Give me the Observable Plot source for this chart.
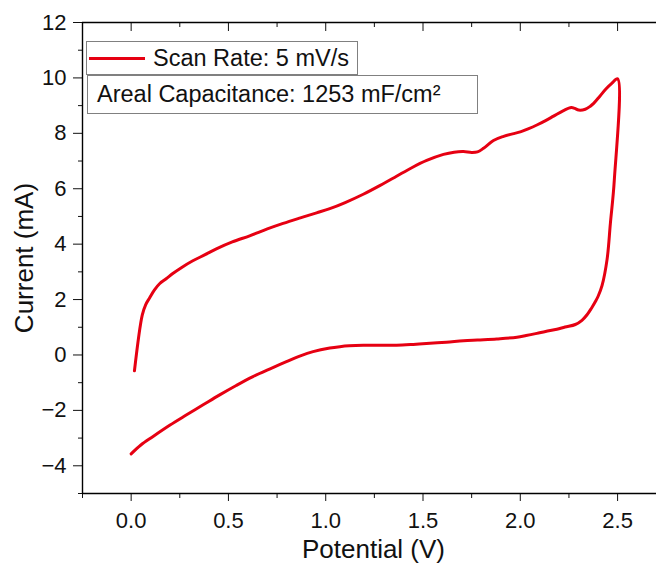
<!DOCTYPE html>
<html>
<head>
<meta charset="utf-8">
<script src="https://cdn.jsdelivr.net/npm/d3@7"></script>
<script src="https://cdn.jsdelivr.net/npm/@observablehq/plot@0.6"></script>
<style>
  html, body { margin: 0; padding: 0; background: #fff; }
  #wrap { position: relative; width: 657px; height: 572px; font-family: "Liberation Sans", Arial, sans-serif; }
  .lg { position: absolute; box-sizing: border-box; border: 1px solid #808080; background: #fff; display: flex; align-items: center; font-size: 23.5px; color: #111; white-space: nowrap; }
  #lg1 { left: 86px; top: 41px; width: 272px; height: 34px; padding-left: 2px; }
  #lg2 { left: 87px; top: 75px; width: 391px; height: 39px; padding-left: 9px; }
  #lg1 .sw { width: 56px; height: 3px; margin-right: 8px; }
</style>
</head>
<body>
<div id="wrap"></div>
<script>
// Forward (anodic) sweep
const potentialFwd = [0.017, 0.057, 0.075, 0.094, 0.12, 0.146, 0.18, 0.214, 0.26, 0.317, 0.38, 0.438, 0.52, 0.609, 0.70, 0.781, 0.87, 0.953, 1.021, 1.10, 1.193, 1.28, 1.364, 1.44, 1.519, 1.605, 1.66, 1.708, 1.75, 1.78, 1.811, 1.862, 1.914, 1.96, 2.0, 2.04, 2.085, 2.13, 2.171, 2.222, 2.262, 2.28, 2.30, 2.334, 2.36, 2.377, 2.41, 2.44, 2.47, 2.50];
const currentFwd   = [-0.57, 1.44, 1.82, 2.05, 2.35, 2.57, 2.75, 2.94, 3.16, 3.40, 3.62, 3.83, 4.08, 4.30, 4.55, 4.75, 4.95, 5.13, 5.28, 5.50, 5.80, 6.12, 6.45, 6.75, 7.02, 7.24, 7.32, 7.34, 7.31, 7.33, 7.46, 7.74, 7.89, 7.98, 8.05, 8.16, 8.30, 8.46, 8.62, 8.82, 8.93, 8.90, 8.84, 8.87, 8.98, 9.08, 9.35, 9.60, 9.80, 9.97];
// Reverse (cathodic) sweep
const potentialRev = [2.483, 2.463, 2.446, 2.42, 2.40, 2.386, 2.365, 2.343, 2.317, 2.283, 2.23, 2.188, 2.13, 2.085, 2.03, 1.983, 1.879, 1.78, 1.708, 1.62, 1.536, 1.45, 1.364, 1.28, 1.193, 1.12, 1.073, 1.021, 0.935, 0.87, 0.798, 0.72, 0.626, 0.54, 0.455, 0.37, 0.283, 0.20, 0.111, 0.05, 0.0];
const currentRev   = [6.3, 4.75, 3.45, 2.5, 2.12, 1.93, 1.68, 1.45, 1.25, 1.10, 1.01, 0.93, 0.85, 0.78, 0.70, 0.64, 0.58, 0.54, 0.51, 0.46, 0.42, 0.38, 0.35, 0.35, 0.35, 0.33, 0.30, 0.25, 0.12, -0.03, -0.24, -0.48, -0.78, -1.10, -1.44, -1.80, -2.17, -2.53, -2.95, -3.25, -3.57];

const xDomain = [-0.25, 2.7];
const yDomain = [-5, 12];
const xMajor = [0, 0.5, 1.0, 1.5, 2.0, 2.5];
const xMinor = [-0.25, 0.25, 0.75, 1.25, 1.75, 2.25];
const yMajor = [-4, -2, 0, 2, 4, 6, 8, 10, 12];
const yMinor = [-5, -3, -1, 1, 3, 5, 7, 9, 11];
const xTitle = "Potential (V)";
const yTitle = "Current (mA)";
const legendSeries = "Scan Rate: 5 mV/s";
const legendNote = "Areal Capacitance: 1253 mF/cm²";
const lineColor = "#e60012";

const cv = [
  ...potentialFwd.map((v, i) => ({V: v, I: currentFwd[i]})),
  ...potentialRev.map((v, i) => ({V: v, I: currentRev[i]}))
];

const chart = Plot.plot({
  width: 657,
  height: 572,
  marginLeft: 82,
  marginRight: 1,
  marginTop: 22,
  marginBottom: 79,
  style: {fontFamily: "'Liberation Sans', Arial, sans-serif", color: "#111", background: "#fff"},
  x: {domain: xDomain},
  y: {domain: yDomain},
  marks: [
    Plot.axisY({ticks: yMajor, tickSize: 9, tickPadding: 7, fontSize: 22, label: null, tickFormat: d3.format("d")}),
    Plot.axisY({ticks: yMinor, tickSize: 4, text: null, label: null}),
    Plot.axisX({ticks: xMajor, tickSize: 8, tickPadding: 11, fontSize: 22, label: null, tickFormat: d3.format(".1f")}),
    Plot.axisX({ticks: xMinor, tickSize: 5, text: null, label: null}),
    Plot.axisX({anchor: "top", ticks: xMajor, tickSize: 8, dy: 8, text: null, label: null}),
    Plot.axisX({anchor: "top", ticks: xMinor, tickSize: 4, dy: 4, text: null, label: null}),
    Plot.ruleY([yDomain[0], yDomain[1]], {stroke: "#000", strokeWidth: 1.4}),
    Plot.ruleX([xDomain[0]], {stroke: "#000", strokeWidth: 1.4}),
    Plot.line(cv, {x: "V", y: "I", stroke: lineColor, strokeWidth: 3, curve: "catmull-rom"}),
    Plot.text([xTitle], {text: d => d, frameAnchor: "bottom", dx: 4, dy: 64, fontSize: 26, fill: "#111"}),
    Plot.text([yTitle], {text: d => d, frameAnchor: "left", textAnchor: "middle", dx: -58, rotate: -90, fontSize: 26, fill: "#111"})
  ]
});

const wrap = document.getElementById("wrap");
wrap.appendChild(chart);

const lg1 = document.createElement("div");
lg1.className = "lg"; lg1.id = "lg1";
const sw = document.createElement("span"); sw.className = "sw"; sw.style.background = lineColor;
const t1 = document.createElement("span"); t1.textContent = legendSeries;
lg1.appendChild(sw); lg1.appendChild(t1);
const lg2 = document.createElement("div");
lg2.className = "lg"; lg2.id = "lg2";
lg2.textContent = legendNote;
wrap.appendChild(lg1);
wrap.appendChild(lg2);
</script>
</body>
</html>
